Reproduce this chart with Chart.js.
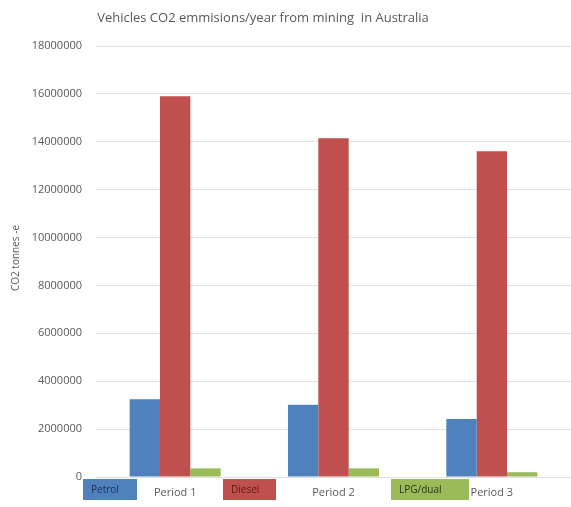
<!DOCTYPE html>
<html>
<head>
<meta charset="utf-8">
<script src="https://cdn.jsdelivr.net/npm/chart.js@4"></script>
<style>
  html, body { margin: 0; padding: 0; background: #ffffff; }
  #wrap { width: 571px; height: 507px; }
</style>
</head>
<body>
<div id="wrap"><canvas id="c" width="571" height="507"></canvas></div>
<script>
// Emission figures, tonnes CO2-e per year
const categories = ['Period 1', 'Period 2', 'Period 3'];
const petrol = [3250000, 3020000, 2420000];
const diesel = [15900000, 14150000, 13600000];
const lpgDual = [360000, 360000, 200000];
const yTicks = [0, 2000000, 4000000, 6000000, 8000000, 10000000, 12000000, 14000000, 16000000, 18000000];

const titleText = 'Vehicles CO2 emmisions/year from mining  in Australia';
const yTitleText = 'CO2 tonnes -e';

const FONT = '"Open Sans", "Liberation Sans", sans-serif';
const GREY = '#595959';

// Chart title, axis title and the boxed series keys along the bottom edge
const decorations = {
  id: 'decorations',
  afterDraw(chart) {
    const ctx = chart.ctx;
    const area = chart.chartArea;
    ctx.save();
    ctx.fillStyle = GREY;
    ctx.font = '13px ' + FONT;
    ctx.textAlign = 'center';
    ctx.textBaseline = 'middle';
    ctx.fillText(titleText, 263, 18);

    ctx.save();
    ctx.translate(16, 258);
    ctx.rotate(-Math.PI / 2);
    ctx.font = '10px ' + FONT;
    ctx.fillText(yTitleText, 0, 0);
    ctx.restore();

    const keys = [
      { x: 83, w: 54, text: '#1f2d55' },
      { x: 223, w: 53, text: '#5a1515' },
      { x: 391, w: 78, text: '#2a3315' }
    ];
    chart.data.datasets.forEach((ds, i) => {
      const k = keys[i];
      const top = area.bottom + 2;
      ctx.fillStyle = ds.backgroundColor;
      ctx.fillRect(k.x, top, k.w, 21);
      ctx.fillStyle = k.text;
      ctx.font = '10px ' + FONT;
      ctx.textAlign = 'left';
      ctx.fillText(ds.label, k.x + 8, top + 11);
    });
    ctx.restore();
  }
};

new Chart(document.getElementById('c'), {
  type: 'bar',
  data: {
    labels: categories,
    datasets: [
      { label: 'Petrol', data: petrol, backgroundColor: '#4f81bd' },
      { label: 'Diesel', data: diesel, backgroundColor: '#c0504d' },
      { label: 'LPG/dual', data: lpgDual, backgroundColor: '#9bbb59' }
    ]
  },
  options: {
    responsive: false,
    animation: false,
    layout: { padding: { top: 46, right: 0, left: 0, bottom: 0 } },
    datasets: { bar: { barPercentage: 1, categoryPercentage: 0.575 } },
    plugins: {
      legend: { display: false },
      title: { display: false },
      tooltip: { enabled: false }
    },
    scales: {
      x: {
        grid: { display: false, drawTicks: false },
        border: { display: false },
        ticks: { color: GREY, font: { family: FONT, size: 11 }, padding: 9 },
        afterFit(scale) { scale.height = 30; }
      },
      y: {
        min: 0,
        max: 18000000,
        afterBuildTicks(scale) { scale.ticks = yTicks.map(v => ({ value: v })); },
        grid: { color: '#e0e0e0', drawTicks: false },
        border: { display: false },
        ticks: {
          color: GREY,
          font: { family: FONT, size: 11 },
          padding: 14,
          callback: (v) => String(v)
        },
        afterFit(scale) { scale.width = 96; }
      }
    }
  },
  plugins: [decorations]
});
</script>
</body>
</html>
